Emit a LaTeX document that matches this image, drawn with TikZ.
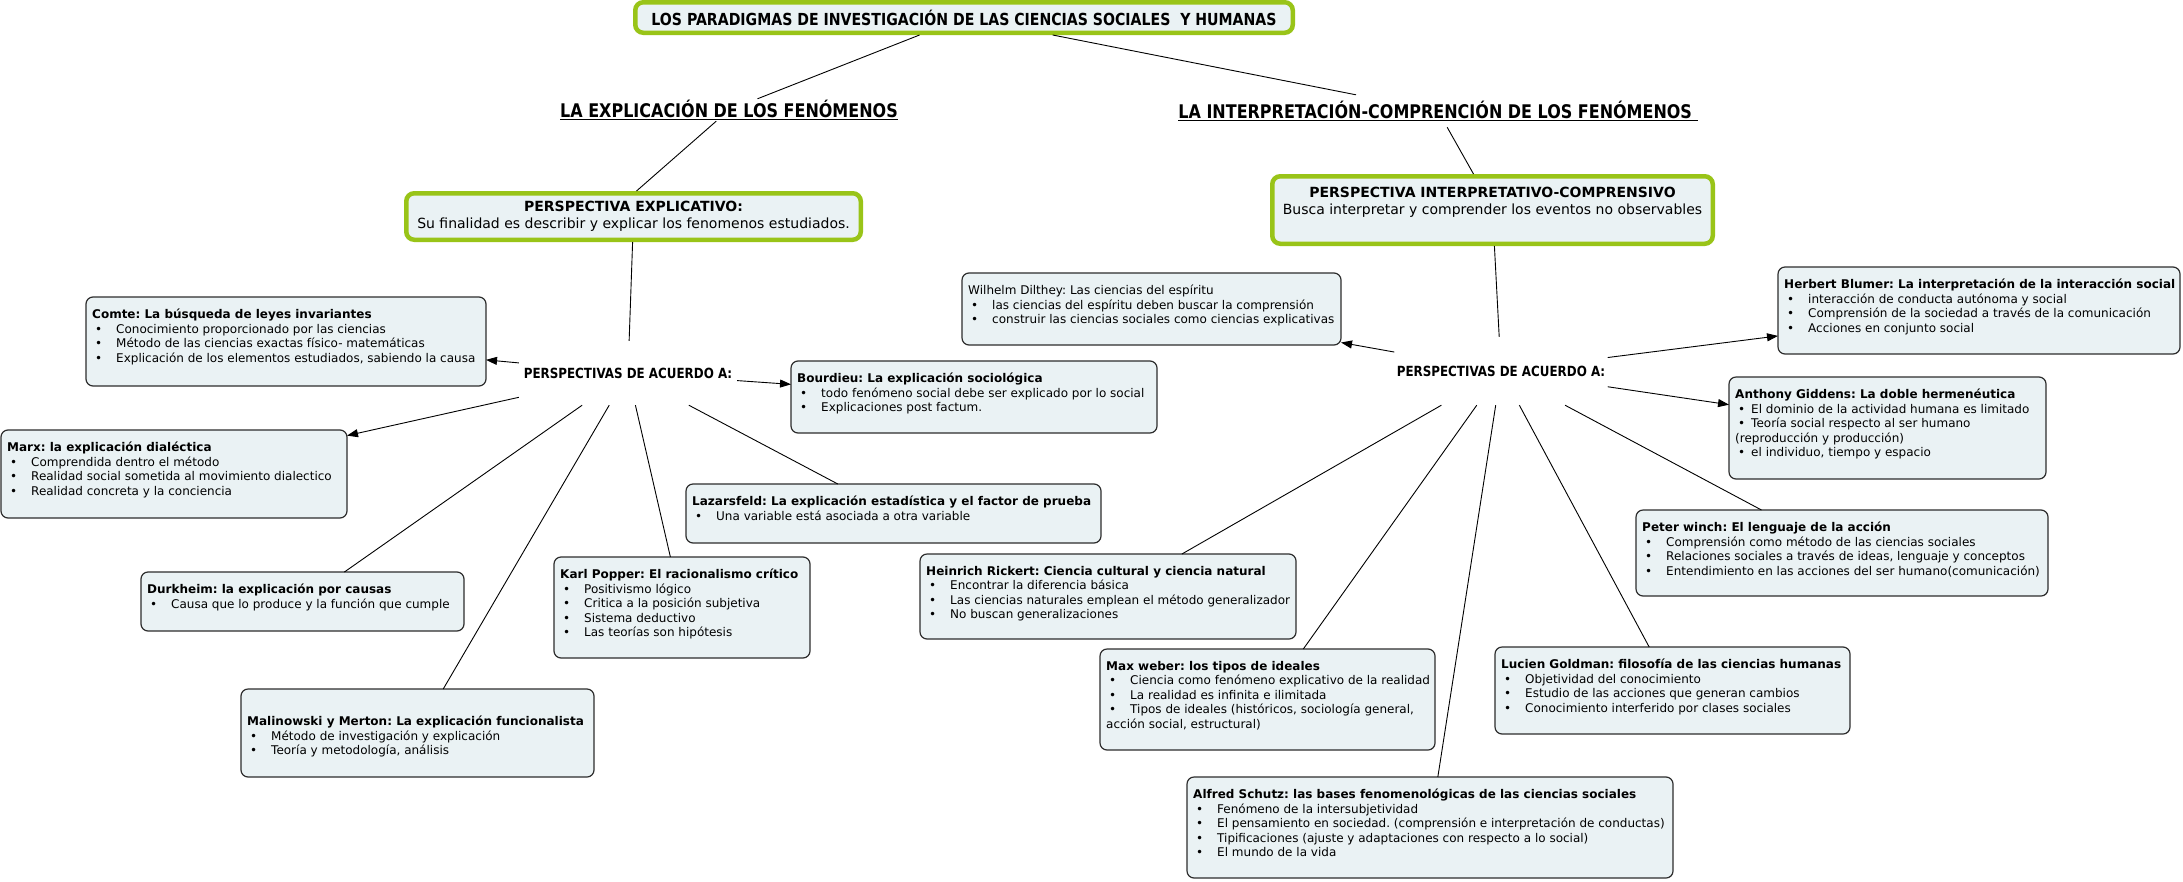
\documentclass[tikz,border=0pt]{standalone}
\usepackage{fontspec}
\setmainfont{DejaVu Sans}
\newfontfamily\cond[FakeStretch=0.85]{DejaVu Sans}
\usetikzlibrary{arrows.meta}
\definecolor{boxfill}{RGB}{234,242,244}
\definecolor{boxline}{RGB}{45,45,45}
\definecolor{lime}{RGB}{153,196,24}
\frenchspacing
\tikzset{
  box/.style={draw=boxline, fill=boxfill, line width=1.2pt, rounded corners=7pt, inner sep=0pt, outer sep=0pt},
  gbox/.style={draw=lime, fill=boxfill, line width=4.5pt, rounded corners=8pt, inner sep=0pt},
  txt/.style={anchor=north west, inner sep=0pt, align=left, font=\fontsize{12}{14.5}\selectfont},
  conn/.style={line width=0.9pt, black},
  arr/.style={conn, -{Triangle[length=11pt,width=8pt]}},
  heading/.style={font=\cond\bfseries\fontsize{18.8}{20}\selectfont, inner sep=0pt},
  hub/.style={font=\cond\bfseries\fontsize{14}{16}\selectfont, inner sep=0pt},
}
\newcommand\bi[1]{\makebox[24pt][l]{\hspace{3pt}•}#1}
\newcommand\bs[1]{\makebox[16pt][l]{\hspace{3pt}•}#1}
\newcommand\bx[6]{%
  \node[box, minimum width={(#4-#2)*1pt}, minimum height={(#5-#3)*1pt}] (#1) at ({(#2+#4)/2},{(#3+#5)/2}) {};
  \node[txt] at ([shift={(6pt,-12pt)}]#1.north west) {#6};
}
\begin{document}
\begin{tikzpicture}[x=1pt,y=-1pt]
\useasboundingbox (0,0) rectangle (2183,881);
\fill[white] (0,0) rectangle (2183,881);

% top level
\node[gbox, minimum width=657.5pt, minimum height=30.5pt, font=\cond\bfseries\fontsize{16.6}{18}\selectfont] (title) at (964,17.5) {LOS PARADIGMAS DE INVESTIGACIÓN DE LAS CIENCIAS SOCIALES\ \ Y HUMANAS};
\node[heading, minimum height=22pt] (explic) at (729,110) {\underline{LA EXPLICACIÓN DE LOS FENÓMENOS}};
\node[heading, minimum height=32pt] (interp) at (1438,111) {\underline{LA INTERPRETACIÓN-COMPRENCIÓN DE LOS FENÓMENOS\ }};

\node[gbox, minimum width=454.5pt, minimum height=46.5pt, align=center, font=\fontsize{14}{17}\selectfont] (pexp) at (633.5,216.5)
  {\textbf{PERSPECTIVA EXPLICATIVO:}\\Su finalidad es describir y explicar los fenomenos estudiados.};
\node[gbox, minimum width=440.5pt, minimum height=67.5pt, align=center, font=\fontsize{14}{17.5}\selectfont] (pint) at (1492.5,210)
  {\textbf{PERSPECTIVA INTERPRETATIVO-COMPRENSIVO}\\Busca interpretar y comprender los eventos no observables\\[-4pt]\strut};

\node[hub, minimum width=218pt, minimum height=64pt] (hubL) at (628,373) {PERSPECTIVAS DE ACUERDO A:};
\node[hub, minimum width=213pt, minimum height=68pt] (hubR) at (1501,371) {PERSPECTIVAS DE ACUERDO A:};

% left boxes
\bx{comte}{86}{297}{486}{386}{\textbf{Comte: La búsqueda de leyes invariantes}\\
\bi{Conocimiento proporcionado por las ciencias}\\
\bi{Método de las ciencias exactas físico- matemáticas}\\
\bi{Explicación de los elementos estudiados, sabiendo la causa}}
\bx{marx}{1}{430}{347}{518}{\textbf{Marx: la explicación dialéctica}\\
\bi{Comprendida dentro el método}\\
\bi{Realidad social sometida al movimiento dialectico}\\
\bi{Realidad concreta y la conciencia}}
\bx{bourdieu}{791}{361}{1157}{433}{\textbf{Bourdieu: La explicación sociológica}\\
\bi{todo fenómeno social debe ser explicado por lo social}\\
\bi{Explicaciones post factum.}}
\bx{lazar}{686}{484}{1101}{543}{\textbf{Lazarsfeld: La explicación estadística y el factor de prueba}\\
\bi{Una variable está asociada a otra variable}}
\bx{durk}{141}{572}{464}{631}{\textbf{Durkheim: la explicación por causas}\\
\bi{Causa que lo produce y la función que cumple}}
\bx{popper}{554}{557}{810}{658}{\textbf{Karl Popper: El racionalismo crítico}\\
\bi{Positivismo lógico}\\
\bi{Critica a la posición subjetiva}\\
\bi{Sistema deductivo}\\
\bi{Las teorías son hipótesis}}
\bx{malin}{241}{689}{594}{777}{\strut\\\textbf{Malinowski y Merton: La explicación funcionalista}\\
\bi{Método de investigación y explicación}\\
\bi{Teoría y metodología, análisis}}

% right boxes
\bx{dilthey}{962}{273}{1341}{345}{Wilhelm Dilthey: Las ciencias del espíritu\\
\bi{las ciencias del espíritu deben buscar la comprensión}\\
\bi{construir las ciencias sociales como ciencias explicativas}}
\bx{blumer}{1778}{267}{2180}{354}{\textbf{Herbert Blumer: La interpretación de la interacción social}\\
\bi{interacción de conducta autónoma y social}\\
\bi{Comprensión de la sociedad a través de la comunicación}\\
\bi{Acciones en conjunto social}}
\bx{giddens}{1729}{377}{2046}{479}{\textbf{Anthony Giddens: La doble hermenéutica}\\
\bs{El dominio de la actividad humana es limitado}\\
\bs{Teoría social respecto al ser humano}\\
(reproducción y producción)\\
\bs{el individuo, tiempo y espacio}}
\bx{winch}{1636}{510}{2048}{596}{\textbf{Peter winch: El lenguaje de la acción}\\
\bi{Comprensión como método de las ciencias sociales}\\
\bi{Relaciones sociales a través de ideas, lenguaje y conceptos}\\
\bi{Entendimiento en las acciones del ser humano(comunicación)}}
\bx{rickert}{920}{554}{1296}{639}{\textbf{Heinrich Rickert: Ciencia cultural y ciencia natural}\\
\bi{Encontrar la diferencia básica}\\
\bi{Las ciencias naturales emplean el método generalizador}\\
\bi{No buscan generalizaciones}}
\bx{weber}{1100}{649}{1435}{750}{\textbf{Max weber: los tipos de ideales}\\
\bi{Ciencia como fenómeno explicativo de la realidad}\\
\bi{La realidad es infinita e ilimitada}\\
\bi{Tipos de ideales (históricos, sociología general,}\\
acción social, estructural)}
\bx{goldman}{1495}{647}{1850}{734}{\textbf{Lucien Goldman: filosofía de las ciencias humanas}\\
\bi{Objetividad del conocimiento}\\
\bi{Estudio de las acciones que generan cambios}\\
\bi{Conocimiento interferido por clases sociales}}
\bx{schutz}{1187}{777}{1673}{878}{\textbf{Alfred Schutz: las bases fenomenológicas de las ciencias sociales}\\
\bi{Fenómeno de la intersubjetividad}\\
\bi{El pensamiento en sociedad. (comprensión e interpretación de conductas)}\\
\bi{Tipificaciones (ajuste y adaptaciones con respecto a lo social)}\\
\bi{El mundo de la vida}}

% connectors
\draw[conn] (title) -- (explic);
\draw[conn] (title) -- (interp);
\draw[conn] (explic) -- ([xshift=3pt]pexp.north);
\draw[conn] (interp) -- ([xshift=-19pt]pint.north);
\draw[conn] (pexp) -- (hubL);
\draw[conn] (pint) -- (hubR);

\draw[arr] (hubL) -- (comte);
\draw[arr] (hubL) -- (marx);
\draw[arr] (hubL) -- (bourdieu);
\draw[conn] (hubL) -- (durk);
\draw[conn] (hubL) -- (malin);
\draw[conn] (hubL) -- (popper);
\draw[conn] (hubL) -- (lazar);

\draw[arr] (hubR) -- (dilthey);
\draw[arr] (hubR) -- (blumer);
\draw[arr] (hubR) -- (giddens);
\draw[conn] (hubR) -- (rickert);
\draw[conn] (hubR) -- (weber);
\draw[conn] (hubR) -- (schutz);
\draw[conn] (hubR) -- (goldman);
\draw[conn] (hubR) -- (winch);
\end{tikzpicture}
\end{document}
